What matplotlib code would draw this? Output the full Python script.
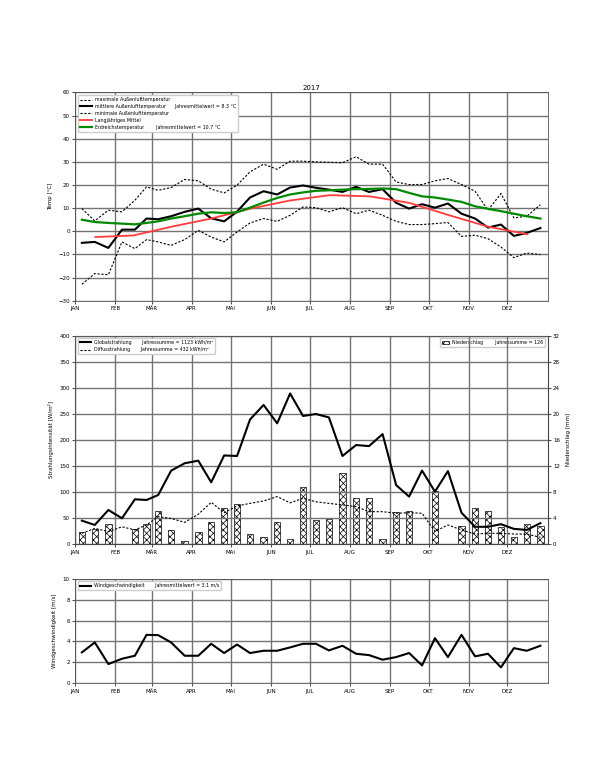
import matplotlib
matplotlib.use("Agg")
import matplotlib.pyplot as plt
import matplotlib.transforms as mtransforms
import numpy as np

plt.rcParams['font.family'] = ['DejaVu Sans']
plt.rcParams['hatch.linewidth'] = 0.5

# month names and lengths (2017)
months = ["JAN", "FEB", "MÄR", "APR", "MAI", "JUN", "JUL", "AUG", "SEP", "OKT", "NOV", "DEZ"]
month_days = [31, 28, 31, 30, 31, 30, 31, 31, 30, 31, 30, 31]

# dekad values (3 per month)
t_max = [9.8, 4.5, 9.1, 8.4, 13.4, 19.2, 17.7, 18.9, 22.4, 21.8, 18.2, 16.6,
         19.9, 25.7, 29.0, 26.8, 30.3, 30.3, 30.0, 29.8, 29.6, 32.2, 29.0, 29.0,
         21.3, 20.2, 20.2, 21.8, 22.8, 20.2, 17.3, 9.1, 16.3, 5.8, 6.5, 11.5]
t_mean = [-5.0, -4.6, -7.2, 0.7, 0.7, 5.5, 5.2, 6.5, 8.4, 9.8, 5.6, 4.3,
          8.5, 14.6, 17.3, 15.9, 18.9, 19.8, 18.8, 18.0, 17.0, 19.2, 17.0, 18.2,
          12.3, 9.8, 11.7, 10.2, 12.0, 7.6, 5.5, 1.6, 2.9, -2.0, -0.7, 1.4]
t_min = [-22.9, -18.3, -18.8, -4.6, -7.5, -3.6, -4.6, -6.1, -3.6, 0.4, -2.5, -4.6,
         -0.3, 3.6, 5.5, 4.3, 6.9, 10.5, 10.2, 8.4, 10.2, 7.6, 9.1, 6.9,
         4.3, 2.9, 2.9, 3.3, 3.8, -2.2, -1.7, -3.2, -6.8, -11.4, -9.4, -10.1]
t_soil = [5.0, 4.0, 3.6, 3.3, 3.0, 3.6, 4.3, 5.5, 6.5, 7.6, 8.2, 7.9,
          8.2, 10.2, 12.4, 14.4, 15.9, 16.8, 17.5, 17.7, 18.0, 18.2, 18.3, 18.5,
          18.2, 16.6, 15.1, 14.6, 13.7, 12.7, 10.8, 9.7, 8.7, 7.6, 6.5, 5.5]
t_longterm = [-2.5, -1.8, 2.0, 5.5, 9.8, 13.3, 15.6, 15.1, 12.3, 7.0, 2.0, -1.3]

global_rad = [44.8, 36.5, 65.3, 49.3, 85.8, 84.5, 94, 140.8, 155, 160, 118.4, 170,
              169, 239, 267, 231.7, 289, 245.8, 249.6, 243, 169, 190, 188, 211,
              113, 91, 141, 100.5, 140, 60, 33, 33, 38, 29, 27, 40]
diffuse_rad = [20.5, 30, 23.7, 33, 27, 36.5, 52.5, 49, 41.6, 57, 80, 60,
               73, 78, 82.6, 91, 79, 87.7, 81, 78, 75, 71.7, 62, 62,
               59, 60, 59, 24, 36.5, 27, 19, 20.5, 20.5, 19, 19, 12.8]
precip = [1.9, 2.25, 3.0, 0.0, 2.3, 3.0, 5.0, 2.15, 0.5, 1.8, 3.4, 5.6,
          6.2, 1.6, 1.1, 3.4, 0.7, 8.7, 3.7, 3.9, 10.9, 7.1, 7.0, 0.7,
          4.9, 5.1, 0.0, 8.2, 0.0, 2.7, 5.5, 5.1, 2.6, 1.0, 3.0, 2.7]
wind = [2.94, 3.9, 1.82, 2.33, 2.62, 4.63, 4.6, 3.9, 2.62, 2.62, 3.77, 2.88,
        3.7, 2.88, 3.1, 3.1, 3.42, 3.77, 3.77, 3.13, 3.58, 2.81, 2.68, 2.24,
        2.49, 2.88, 1.69, 4.31, 2.49, 4.63, 2.56, 2.81, 1.5, 3.35, 3.1, 3.58]

# x positions in days of year
month_start = np.concatenate([[0], np.cumsum(month_days)[:-1]])
dekad_x = []
for s, n in zip(month_start, month_days):
    dekad_x += [s + 5, s + 15, s + 20 + (n - 20) / 2]
dekad_x = np.array(dekad_x)
mid_month = month_start + np.array(month_days) / 2

FS = 4
GRID = dict(color="#737373", linewidth=1.0)
LEG = dict(fontsize=3.4, framealpha=1, edgecolor="#cccccc", handletextpad=0.6)


def style_axis(ax):
    ax.set_xlim(0, 365)
    ax.set_xticks(month_start)
    ax.set_xticklabels(months)
    off = mtransforms.ScaledTranslation(3 / 100, 0, ax.figure.dpi_scale_trans)
    for lab in ax.get_xticklabels():
        lab.set_transform(lab.get_transform() + off)
    ax.tick_params(labelsize=FS, length=2, width=0.5, pad=2)
    ax.grid(True, **GRID)
    for sp in ax.spines.values():
        sp.set_linewidth(0.6)
        sp.set_color("#555555")


fig = plt.figure(figsize=(6.08, 7.68), dpi=100)
L, W = 0.124, 0.7765

# temperatures
ax1 = fig.add_axes([L, 0.6085, W, 0.2711])
ax1.plot(dekad_x, t_max, color="black", lw=0.8, ls=(0, (2, 1.5)), label="maximale Außenlufttemperatur")
ax1.plot(dekad_x, t_mean, color="black", lw=1.5,
         label="mittlere Außenlufttemperatur      Jahresmittelwert = 8.3 °C")
ax1.plot(dekad_x, t_min, color="black", lw=0.8, ls=(0, (2, 1.5)), label="minimale Außenlufttemperatur")
ax1.plot(mid_month, t_longterm, color="#ff3b3b", lw=1.3, label="Langjähriges Mittel")
ax1.plot(dekad_x, t_soil, color="#008a00", lw=1.6,
         label="Erdreichstemperatur        Jahresmittelwert = 10.7 °C")
ax1.set_ylim(-30, 60)
ax1.set_yticks(range(-30, 61, 10))
ax1.set_ylabel("Temp [°C]", fontsize=FS)
ax1.set_title("2017", fontsize=5, pad=2)
style_axis(ax1)
ax1.legend(loc="upper left", handlelength=2.5, borderpad=0.5, labelspacing=0.4, **LEG)

# radiation + precipitation
ax2 = fig.add_axes([L, 0.2917, W, 0.2712])
ax2r = ax2.twinx()
ax2r.bar(dekad_x, precip, width=5, facecolor="white", edgecolor="black", lw=0.5,
         hatch="xxxxx", label="Niederschlag        Jahressumme = 126")
ax2r.set_ylim(0, 32)
ax2r.set_yticks(range(0, 33, 4))
ax2r.set_ylabel("Niederschlag [mm]", fontsize=FS)
ax2r.tick_params(labelsize=FS, length=2, width=0.5, pad=2)
ax2r.legend(loc="upper right", handlelength=1.5, **LEG)
ax2.set_zorder(ax2r.get_zorder() + 1)
ax2.patch.set_visible(False)
ax2.plot(dekad_x, global_rad, color="black", lw=1.5,
         label="Globalstrahlung       Jahressumme = 1123 kWh/m²")
ax2.plot(dekad_x, diffuse_rad, color="black", lw=0.8, ls=(0, (2, 1.5)),
         label="Diffusstrahlung       Jahressumme = 432 kWh/m²")
ax2.set_ylim(0, 400)
ax2.set_yticks(range(0, 401, 50))
ax2.set_ylabel("Strahlungsintensität [W/m²]", fontsize=FS)
style_axis(ax2)
ax2.legend(loc="upper left", handlelength=2.5, **LEG)

# wind
ax3 = fig.add_axes([L, 0.1107, W, 0.1354])
ax3.plot(dekad_x, wind, color="black", lw=1.5,
         label="Windgeschwindigkeit       Jahresmittelwert = 3.1 m/s")
ax3.set_ylim(0, 10)
ax3.set_yticks(range(0, 11, 2))
ax3.set_ylabel("Windgeschwindigkeit [m/s]", fontsize=FS)
style_axis(ax3)
ax3.legend(loc="upper left", handlelength=2.5, **LEG)

fig.savefig("out.png", dpi=100)
